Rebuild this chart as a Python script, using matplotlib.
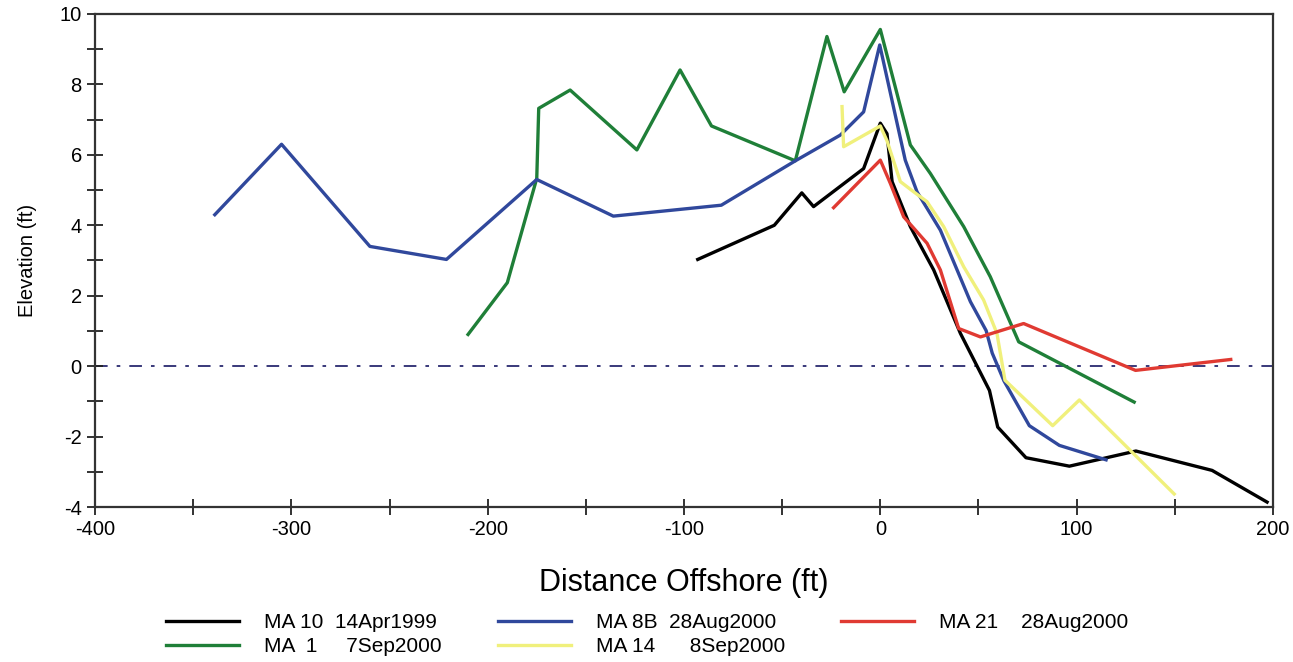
import matplotlib
matplotlib.use("Agg")
import matplotlib.pyplot as plt
from matplotlib.ticker import MultipleLocator

plt.rcParams['font.family'] = ['Liberation Sans', 'DejaVu Sans']
plt.rcParams['axes.unicode_minus'] = False

# MA 10 14Apr1999 (black)
ma10_x = [-93, -54, -40, -34, -8.5, 0, 3.4, 6, 15.3, 27.2, 40.8, 55.6, 59.8, 74.2, 96.3, 130.2, 169, 197]
ma10_y = [3.03, 4.0, 4.92, 4.53, 5.61, 6.9, 6.6, 5.24, 3.96, 2.73, 0.93, -0.69, -1.73, -2.6, -2.84, -2.41, -2.96, -3.86]

# MA 1 7Sep2000 (green)
ma1_x = [-210, -190, -175, -174, -158, -124, -102, -86, -43.3, -27.2, -18.4, 0, 15.3, 25.5, 42.5, 56, 70.5, 129.3]
ma1_y = [0.9, 2.37, 5.33, 7.32, 7.84, 6.14, 8.41, 6.82, 5.83, 9.36, 7.79, 9.56, 6.28, 5.47, 3.96, 2.54, 0.69, -1.02]

# MA 8B 28Aug2000 (blue)
ma8b_x = [-339, -305, -260, -221, -175, -136, -81, -43.3, -20.4, -8.5, -0.3, 12.7, 18.7, 30.6, 45.9, 53.9, 57, 63, 75.9, 91.2, 115]
ma8b_y = [4.3, 6.3, 3.4, 3.03, 5.3, 4.26, 4.57, 5.83, 6.56, 7.22, 9.12, 5.85, 4.95, 3.86, 1.83, 1.01, 0.37, -0.42, -1.69, -2.25, -2.66]

# MA 14 8Sep2000 (yellow)
ma14_x = [-19.5, -18.7, 0, 3.4, 10.2, 17, 23.8, 32.3, 42.5, 52.6, 59.4, 63.5, 87.8, 101.4, 149.7]
ma14_y = [7.37, 6.23, 6.82, 6.4, 5.24, 4.95, 4.67, 3.96, 2.82, 1.88, 0.93, -0.4, -1.69, -0.96, -3.63]

# MA 21 28Aug2000 (red)
ma21_x = [-23.8, 0, 5.1, 11.9, 23.8, 30.6, 39.9, 51, 73, 130, 178.5]
ma21_y = [4.5, 5.85, 5.19, 4.24, 3.49, 2.73, 1.07, 0.83, 1.21, -0.12, 0.19]

labels = ["MA 10  14Apr1999", "MA  1     7Sep2000", "MA 8B  28Aug2000",
          "MA 14      8Sep2000", "MA 21    28Aug2000"]

fig = plt.figure(figsize=(12.93, 6.62), dpi=100)
ax = fig.add_axes([0.0735, 0.2341, 0.911, 0.7448])

lw = 2.4
l10, = ax.plot(ma10_x, ma10_y, color='#000000', lw=lw)
l1, = ax.plot(ma1_x, ma1_y, color='#1f7f38', lw=lw)
l8b, = ax.plot(ma8b_x, ma8b_y, color='#30489c', lw=lw)
l14, = ax.plot(ma14_x, ma14_y, color='#f0f07c', lw=lw)
l21, = ax.plot(ma21_x, ma21_y, color='#e03a32', lw=lw)

ax.axhline(0, color='#2a2a70', lw=1.3, ls=(0, (7, 5, 2, 5)), zorder=0.5)

ax.set_xlim(-400, 200)
ax.set_ylim(-4, 10)
ax.xaxis.set_major_locator(MultipleLocator(100))
ax.xaxis.set_minor_locator(MultipleLocator(50))
ax.yaxis.set_major_locator(MultipleLocator(2))
ax.yaxis.set_minor_locator(MultipleLocator(1))
ax.tick_params(which='both', direction='inout', top=False, right=False,
               width=1.3, color='#222222')
ax.tick_params(which='major', length=11, labelsize=14.5, pad=4)
ax.tick_params(which='minor', length=11)
for s in ax.spines.values():
    s.set_linewidth(1.6)
    s.set_color('#333333')

ax.set_xlabel("Distance Offshore (ft)", fontsize=22, labelpad=21)
ax.set_ylabel("Elevation (ft)", fontsize=14.5, labelpad=16)

fig.legend([l10, l1, l8b, l14, l21], labels, ncol=3, frameon=False,
           loc='upper left', bbox_to_anchor=(0.1138, 0.1026), fontsize=15,
           handlelength=3.5, handletextpad=1.2, columnspacing=2.7,
           labelspacing=0.25)

fig.savefig("out.png", dpi=100)
